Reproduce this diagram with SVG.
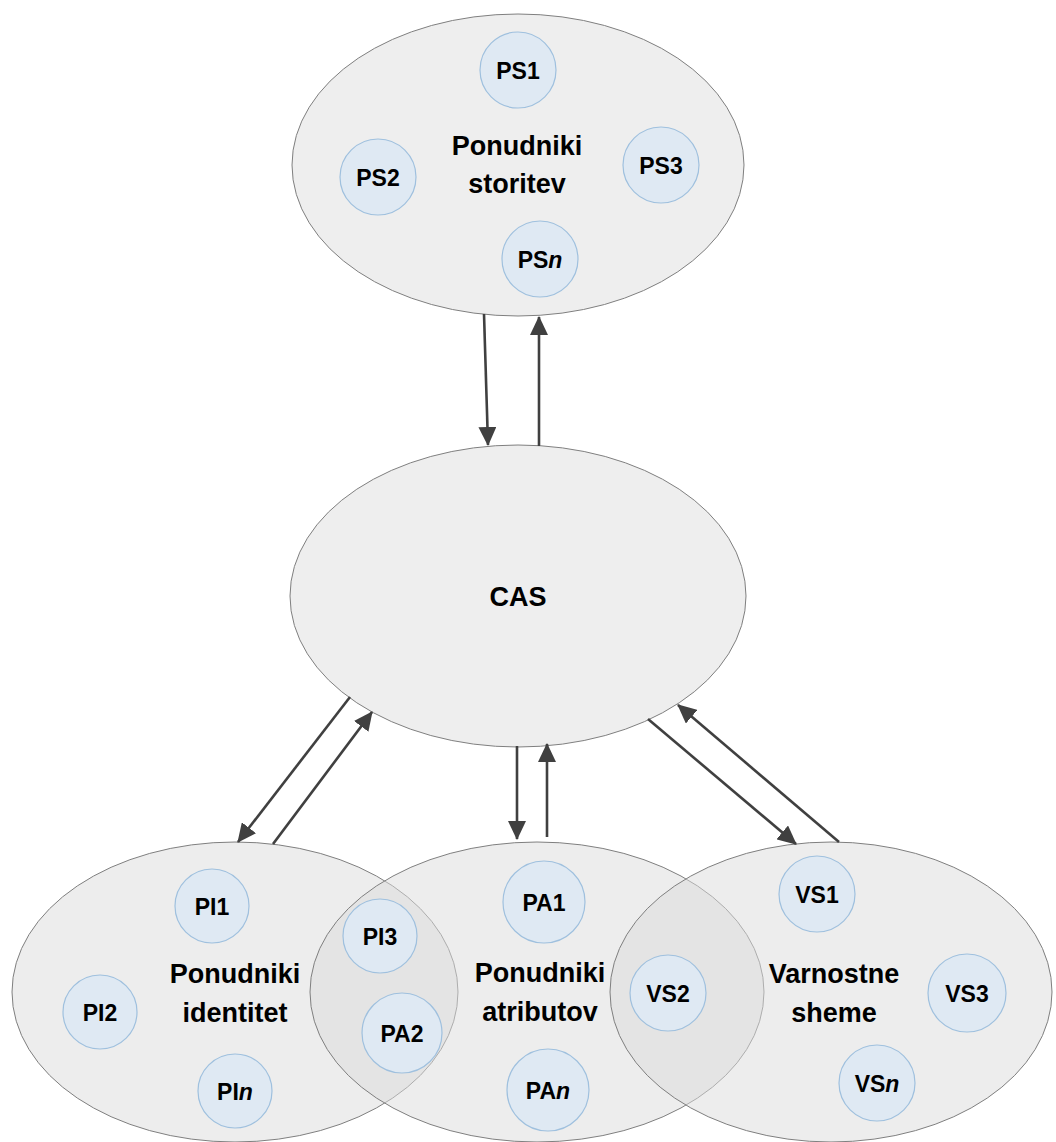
<svg xmlns="http://www.w3.org/2000/svg" width="1056" height="1142" viewBox="0 0 1056 1142">
<style>
.big{fill:#eeeeee;stroke:#7f7f7f;stroke-width:1}
.ov{fill:#dcdcdc;fill-opacity:0.5;stroke:#7f7f7f;stroke-width:1}
.sm{fill:#dfe9f3;stroke:#9fc0de;stroke-width:1.2}
.lbl{font-family:"Liberation Sans",Arial,sans-serif;font-weight:bold;font-size:27px;fill:#000;text-anchor:middle}
.cl{font-family:"Liberation Sans",Arial,sans-serif;font-weight:bold;font-size:23px;fill:#000;text-anchor:middle}
.con{stroke:#404040;stroke-width:2.6;fill:none;marker-end:url(#ah)}
</style>
<defs>
<marker id="ah" markerUnits="userSpaceOnUse" markerWidth="20" markerHeight="18" refX="18" refY="9" orient="auto">
<path d="M0,0 L19,9 L0,18 Z" fill="#404040"/>
</marker>
</defs>
<rect width="1056" height="1142" fill="#fff"/>

<g id="ps-group">
<ellipse class="big" cx="518" cy="165" rx="226" ry="151"/>
<text class="lbl" x="517" y="155">Ponudniki</text>
<text class="lbl" x="517" y="193">storitev</text>
</g>
<g id="PS1"><circle class="sm" cx="518" cy="70" r="38"/><text class="cl" x="518" y="79">PS1</text></g>
<g id="PS2"><circle class="sm" cx="378" cy="177" r="38"/><text class="cl" x="378" y="186">PS2</text></g>
<g id="PS3"><circle class="sm" cx="661" cy="165" r="38"/><text class="cl" x="661" y="174">PS3</text></g>
<g id="PSn"><circle class="sm" cx="540" cy="259" r="38"/><text class="cl" x="540" y="268">PS<tspan font-style="italic">n</tspan></text></g>

<g id="CAS">
<ellipse class="big" cx="518" cy="596" rx="228" ry="151"/>
<text class="lbl" x="518" y="606">CAS</text>
</g>

<g id="pi-group">
<ellipse class="ov" cx="235" cy="992" rx="223" ry="150"/>
<text class="lbl" x="235" y="983">Ponudniki</text>
<text class="lbl" x="235" y="1022">identitet</text>
</g>
<g id="pa-group">
<ellipse class="ov" cx="537" cy="992" rx="227" ry="150"/>
<text class="lbl" x="540" y="982">Ponudniki</text>
<text class="lbl" x="540" y="1021">atributov</text>
</g>
<g id="vs-group">
<ellipse class="ov" cx="831" cy="992" rx="221" ry="150"/>
<text class="lbl" x="834" y="983">Varnostne</text>
<text class="lbl" x="834" y="1022">sheme</text>
</g>

<g id="PI1"><circle class="sm" cx="212" cy="906" r="37"/><text class="cl" x="212" y="915">PI1</text></g>
<g id="PI2"><circle class="sm" cx="100" cy="1012" r="37"/><text class="cl" x="100" y="1021">PI2</text></g>
<g id="PI3"><circle class="sm" cx="380" cy="936" r="37"/><text class="cl" x="380" y="945">PI3</text></g>
<g id="PIn"><circle class="sm" cx="235" cy="1091" r="37"/><text class="cl" x="235" y="1100">PI<tspan font-style="italic">n</tspan></text></g>
<g id="PA1"><circle class="sm" cx="544" cy="902" r="41"/><text class="cl" x="544" y="911">PA1</text></g>
<g id="PA2"><circle class="sm" cx="402" cy="1033" r="40"/><text class="cl" x="402" y="1042">PA2</text></g>
<g id="PAn"><circle class="sm" cx="548" cy="1090" r="41"/><text class="cl" x="548" y="1099">PA<tspan font-style="italic">n</tspan></text></g>
<g id="VS1"><circle class="sm" cx="817" cy="894" r="38"/><text class="cl" x="817" y="903">VS1</text></g>
<g id="VS2"><circle class="sm" cx="668" cy="993" r="38"/><text class="cl" x="668" y="1002">VS2</text></g>
<g id="VS3"><circle class="sm" cx="967" cy="993" r="39"/><text class="cl" x="967" y="1002">VS3</text></g>
<g id="VSn"><circle class="sm" cx="877" cy="1083" r="38"/><text class="cl" x="877" y="1092">VS<tspan font-style="italic">n</tspan></text></g>

<g id="connectors">
<line class="con" x1="484" y1="314" x2="488" y2="445"/>
<line class="con" x1="539" y1="446" x2="539" y2="317"/>
<line class="con" x1="350" y1="697" x2="238" y2="842"/>
<line class="con" x1="273" y1="844" x2="372" y2="712"/>
<line class="con" x1="517" y1="746" x2="517" y2="839"/>
<line class="con" x1="547" y1="837" x2="547" y2="744"/>
<line class="con" x1="648" y1="719" x2="796" y2="844"/>
<line class="con" x1="839" y1="842" x2="678" y2="705"/>
</g>
</svg>
